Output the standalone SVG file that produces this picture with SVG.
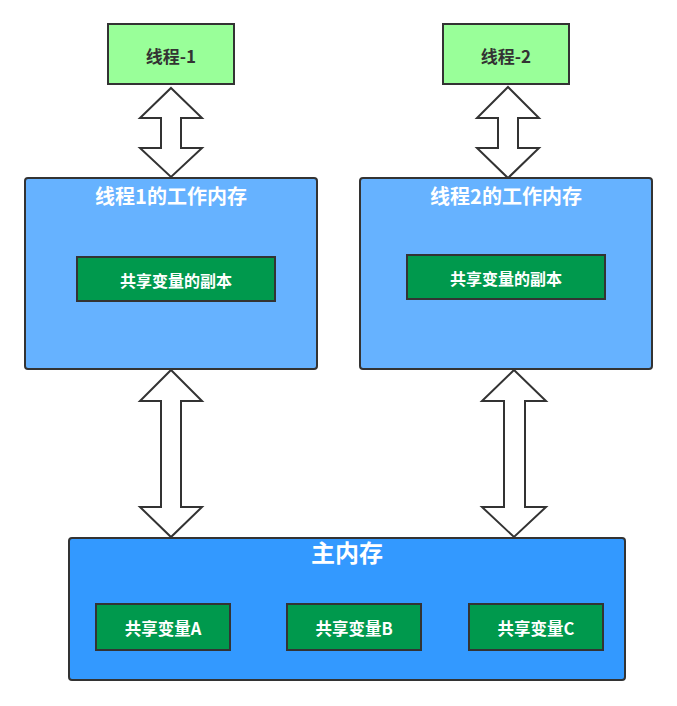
<svg xmlns="http://www.w3.org/2000/svg" width="677" height="706" viewBox="0 0 677 706">
<style>
.thread{fill:#99FF99;stroke:#333333;stroke-width:2}
.wm{fill:#66B2FF;stroke:#333333;stroke-width:2}
.mm{fill:#3399FF;stroke:#333333;stroke-width:2}
.var{fill:#00994D;stroke:#333333;stroke-width:2}
.arrow{fill:#FFFFFF;stroke:#333333;stroke-width:2;stroke-linejoin:miter}
text{font-family:"Microsoft YaHei","Noto Sans CJK SC","Noto Sans",sans-serif;font-weight:bold;text-anchor:middle;dominant-baseline:central}
.tt{fill:#333333;font-size:17px}
.title{fill:#FFFFFF;font-size:20px}
.big{fill:#FFFFFF;font-size:24px}
.vt{fill:#FFFFFF;font-size:16px}
.vt2{fill:#FFFFFF;font-size:16.5px}
</style>
<rect width="677" height="706" fill="#FFFFFF"/>
<g id="connectors">
<polygon class="arrow" points="171,88 202,118 181,118 181,148 202,148 171,177 140,148 161,148 161,118 140,118"/>
<polygon class="arrow" points="508,87 539,118 518,118 518,148 539,148 508,178 477,148 498,148 498,118 477,118"/>
<polygon class="arrow" points="171,370 202,401 181,401 181,507 202,507 171,537 140,507 161,507 161,401 140,401"/>
<polygon class="arrow" points="514,370 546,401 525,401 525,507 546,507 514,537 482,507 504,507 504,401 482,401"/>
</g>
<g id="thread1">
<rect class="thread" x="108" y="24" width="126" height="60"/>
<text class="tt" x="171" y="55">线程-1</text>
</g>
<g id="thread2">
<rect class="thread" x="443" y="24" width="126" height="60"/>
<text class="tt" x="506" y="55">线程-2</text>
</g>
<g id="wm1">
<rect class="wm" x="25" y="178" width="292" height="191" rx="3"/>
<text class="title" x="171" y="195">线程1的工作内存</text>
</g>
<g id="copy1">
<rect class="var" x="77" y="257" width="198" height="44"/>
<text class="vt" x="176" y="280">共享变量的副本</text>
</g>
<g id="wm2">
<rect class="wm" x="360" y="178" width="292" height="191" rx="3"/>
<text class="title" x="506" y="195">线程2的工作内存</text>
</g>
<g id="copy2">
<rect class="var" x="407" y="255" width="198" height="44"/>
<text class="vt" x="506" y="278">共享变量的副本</text>
</g>
<g id="main">
<rect class="mm" x="69" y="538" width="556" height="142" rx="3"/>
<text class="big" x="347" y="551">主内存</text>
</g>
<g id="varA">
<rect class="var" x="96" y="604" width="134" height="46"/>
<text class="vt2" x="163" y="628">共享变量A</text>
</g>
<g id="varB">
<rect class="var" x="287" y="604" width="134" height="46"/>
<text class="vt2" x="354" y="628">共享变量B</text>
</g>
<g id="varC">
<rect class="var" x="469" y="604" width="134" height="46"/>
<text class="vt2" x="536" y="628">共享变量C</text>
</g>
</svg>
